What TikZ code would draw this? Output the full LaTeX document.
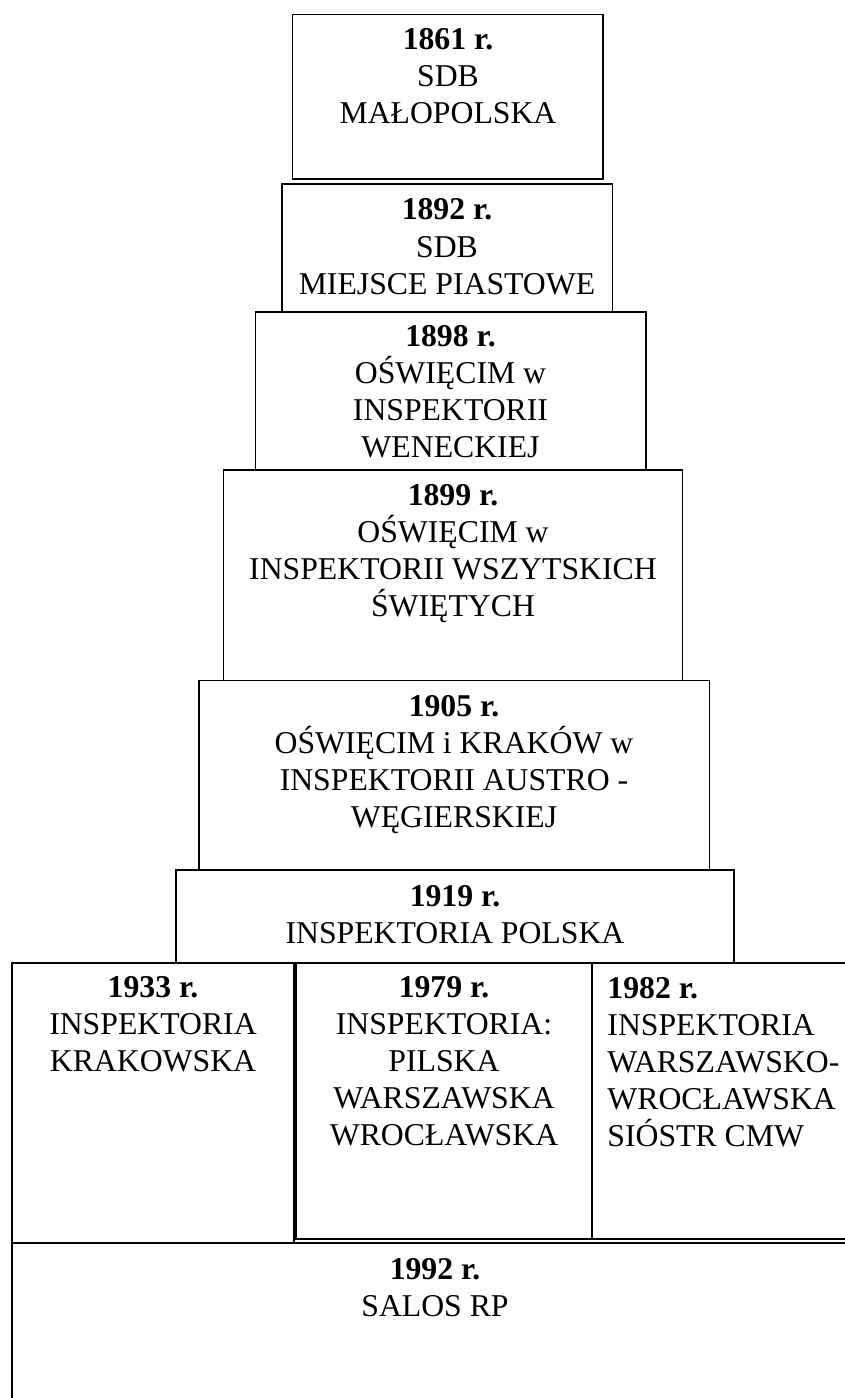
\documentclass[tikz,border=0pt]{standalone}
\usepackage{fontspec}
\setmainfont{Liberation Serif}
\usetikzlibrary{positioning}

\begin{document}
\begin{tikzpicture}[x=0.75pt,y=-0.75pt,line width=1.1pt,
		lbl/.style={anchor=base,align=center,inner sep=0pt,font=\fontsize{23.8}{27.75}\selectfont}]
	\useasboundingbox (0,0) rectangle (845,1398);
	\draw (292.7,14.7) coordinate (a1861) rectangle (603,179) coordinate (b1861);
	\draw (282,184) coordinate (a1892) rectangle (612.7,312) coordinate (b1892);
	\draw (255.3,312) coordinate (a1898) rectangle (646,470) coordinate (b1898);
	\draw (223.3,470) coordinate (a1899) rectangle (682.3,680.7) coordinate (b1899);
	\draw (199,680.7) coordinate (a1905) rectangle (709.4,870) coordinate (b1905);
	\draw (176,870) coordinate (a1919) rectangle (734,963) coordinate (b1919);
	\draw (12,963) coordinate (a1933) rectangle (294,1243) coordinate (b1933);
	\draw (296,963) coordinate (a1979) rectangle (592,1239) coordinate (b1979);
	\draw (592,963) coordinate (a1982) rectangle (870,1239) coordinate (b1982);
	\draw (12,1243) coordinate (a1992) rectangle (858,1430) coordinate (b1992);
	\node[lbl] (t1861) at (448,124) {\textbf{1861 r.}\\SDB\\MAŁOPOLSKA};
	\node[lbl] (t1892) at (447,294) {\textbf{1892 r.}\\SDB\\MIEJSCE PIASTOWE};
	\node[lbl] (t1898) at (450.5,457.7) {\textbf{1898 r.}\\OŚWIĘCIM w\\INSPEKTORII\\WENECKIEJ};
	\node[lbl] (t1899) at (453,616) {\textbf{1899 r.}\\OŚWIĘCIM w\\INSPEKTORII WSZYTSKICH\\ŚWIĘTYCH};
	\node[lbl] (t1905) at (454,827.7) {\textbf{1905 r.}\\OŚWIĘCIM i KRAKÓW w\\INSPEKTORII AUSTRO -\\WĘGIERSKIEJ};
	\node[lbl] (t1919) at (455,943) {\textbf{1919 r.}\\INSPEKTORIA POLSKA};
	\node[lbl] (t1933) at (153,1071) {\textbf{1933 r.}\\INSPEKTORIA\\KRAKOWSKA};
	\node[lbl] (t1979) at (444,1145) {\textbf{1979 r.}\\INSPEKTORIA:\\PILSKA\\WARSZAWSKA\\WROCŁAWSKA};
	\node[lbl,anchor=base west,align=left] (t1982) at (606.7,1146) {\textbf{1982 r.}\\INSPEKTORIA\\WARSZAWSKO-\\WROCŁAWSKA\\SIÓSTR CMW};
	\node[lbl] (t1992) at (435,1316) {\textbf{1992 r.}\\SALOS RP};
\end{tikzpicture}
\end{document}
